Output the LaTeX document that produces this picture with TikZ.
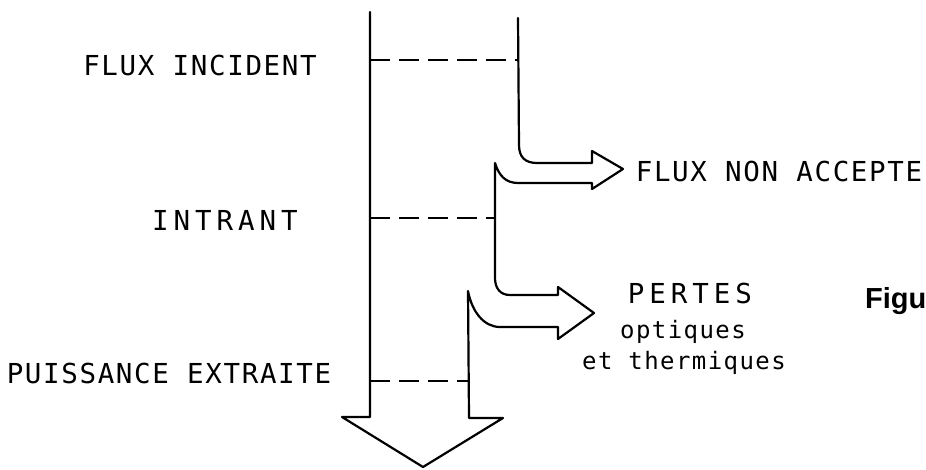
\documentclass[tikz,border=0pt]{standalone}
\usepackage{fontspec}
\newfontfamily\plotfont{DejaVu Sans Mono}[LetterSpace=6]
\newfontfamily\plotwide{DejaVu Sans Mono}[LetterSpace=18]
\newfontfamily\figfont{Liberation Sans}
\begin{document}
\begin{tikzpicture}[x=1pt,y=-1pt,
  outline/.style={line width=2.2pt,line join=round,line cap=round},
  dashline/.style={line width=2.4pt,dash pattern=on 20pt off 9pt},
  caps/.style={inner sep=0pt,anchor=base,font=\plotfont\fontsize{27.5}{30}\selectfont},
  wide/.style={inner sep=0pt,anchor=base,font=\plotwide\fontsize{27.5}{30}\selectfont},
  small/.style={inner sep=0pt,anchor=base,font=\plotfont\fontsize{24}{26}\selectfont},
  figlab/.style={inner sep=0pt,anchor=base west,font=\figfont\bfseries\fontsize{29}{31}\selectfont}]
\useasboundingbox (0,0) rectangle (926,469);

% Sankey outline
\draw[outline]
  (370,12) -- (370,417) -- (342,417) -- (423,467) -- (503,418) -- (469,418)
  -- (468,291)
  .. controls (472,312) and (484,327) .. (500,327)
  -- (558,327) -- (558,339) -- (594,313) -- (558,287) -- (558,295)
  -- (510,295) .. controls (500,295) and (495,288) .. (495,278)
  -- (495,163)
  .. controls (499,176) and (506,183) .. (518,183)
  -- (592,183) -- (592,189) -- (623,169) -- (592,151) -- (592,163)
  -- (537,163) .. controls (525,163) and (519,157) .. (519,145)
  -- (518,18);

% level marks
\coordinate (L1) at (370,60);  \coordinate (R1) at (518,60);
\coordinate (L2) at (370,218); \coordinate (R2) at (495,218);
\coordinate (L3) at (370,381); \coordinate (R3) at (469,381);
\draw[dashline] (L1) -- (R1);
\draw[dashline] (L2) -- (R2);
\draw[dashline] (L3) -- (R3);

% labels
\node[caps] (incident) at (200,75) {FLUX INCIDENT};
\node[wide] (intrant) at (225,230) {INTRANT};
\node[caps] (extraite) at (169,383) {PUISSANCE EXTRAITE};
\node[caps] (nonacc) at (779,181) {FLUX NON ACCEPTE};
\node[wide] (pertes) at (690,303) {PERTES};
\node[small] (optiques) at (683,338) {optiques};
\node[small] (therm) at (684,369) {et thermiques};
\node[figlab] (fig) at (865,308) {Figu};
\end{tikzpicture}
\end{document}
